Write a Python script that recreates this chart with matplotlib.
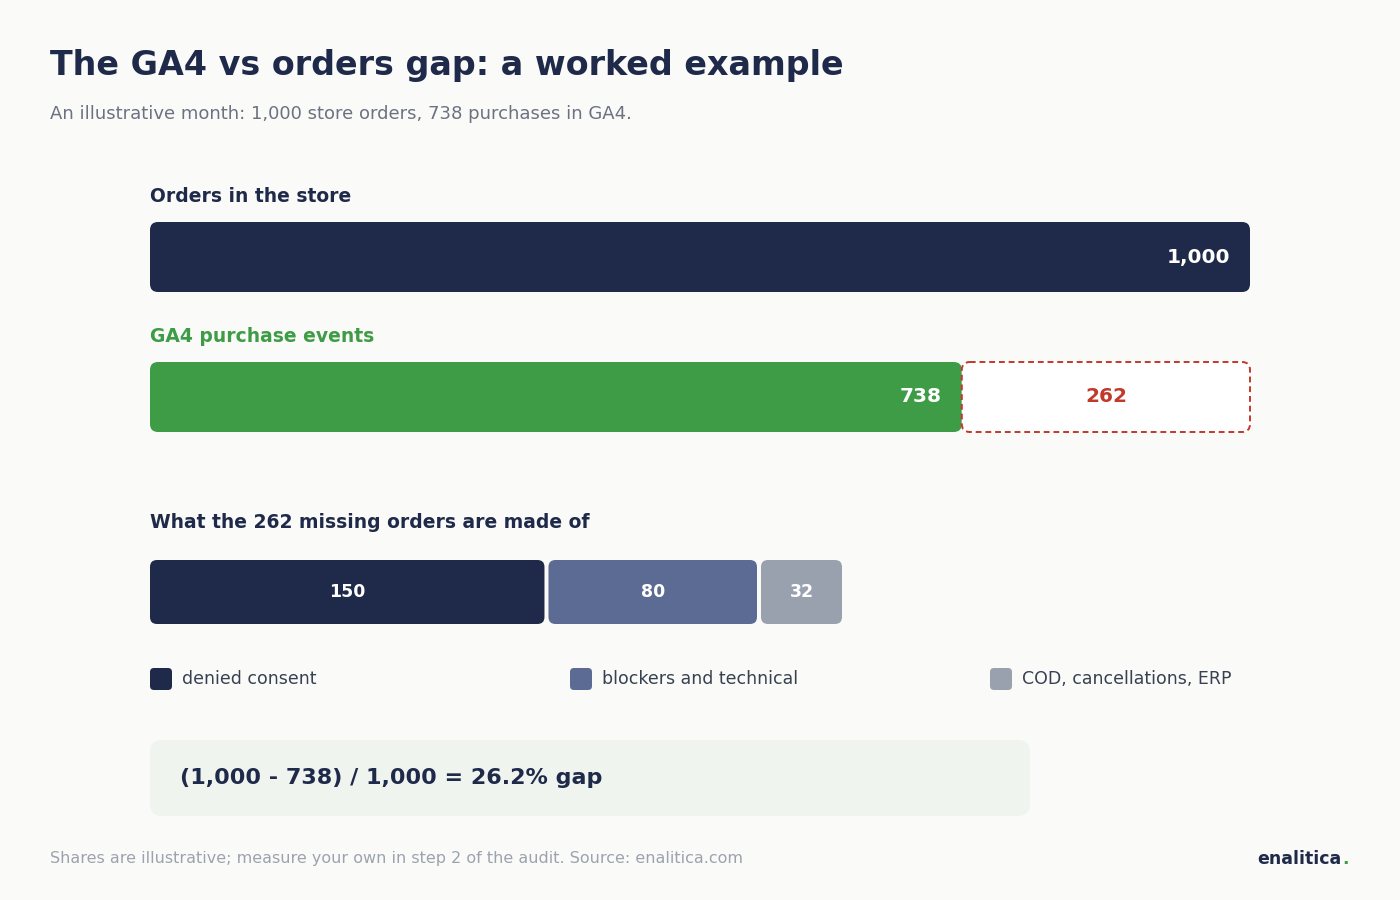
import matplotlib
matplotlib.use("Agg")
import matplotlib.pyplot as plt
from matplotlib.patches import FancyBboxPatch

store_orders = 1000
ga4_purchases = 738
gap_labels = ["denied consent", "blockers and technical", "COD, cancellations, ERP"]
gap_values = [150, 80, 32]
gap_colors = ["#1f2a4a", "#5c6b93", "#9aa1ae"]

NAVY = "#1f2a4a"; GREEN = "#3d9c45"; RED = "#c0392b"; BG = "#fafaf8"

fig = plt.figure(figsize=(14, 9), dpi=100, facecolor=BG)
ax = fig.add_axes([0, 0, 1, 1])
ax.set_xlim(0, 1400); ax.set_ylim(900, 0); ax.axis("off")
ax.set_facecolor(BG)

def rbar(x, y, w, h, color, r=8, **kw):
    p = FancyBboxPatch((x + r, y + r), max(w - 2 * r, 0.1), h - 2 * r,
                       boxstyle=f"round,pad={r}", fc=color, ec="none", **kw)
    ax.add_patch(p)
    return p

ax.text(50, 65, "The GA4 vs orders gap: a worked example", fontsize=24, weight="bold", color=NAVY, va="center")
ax.text(50, 114, "An illustrative month: 1,000 store orders, 738 purchases in GA4.", fontsize=13, color="#6b7280", va="center")

x0, full = 150, 1100
sc = full / store_orders
ax.text(x0, 197, "Orders in the store", fontsize=13.5, weight="bold", color=NAVY, va="center")
rbar(x0, 222, store_orders * sc, 70, NAVY)
ax.text(x0 + store_orders * sc - 20, 257, f"{store_orders:,}", fontsize=14.5, weight="bold", color="white", ha="right", va="center")

ax.text(x0, 337, "GA4 purchase events", fontsize=13.5, weight="bold", color=GREEN, va="center")
gw = ga4_purchases * sc
rbar(x0, 362, gw, 70, GREEN)
ax.text(x0 + gw - 20, 397, f"{ga4_purchases}", fontsize=14.5, weight="bold", color="white", ha="right", va="center")
missing = store_orders - ga4_purchases
r = 8
ax.add_patch(FancyBboxPatch((x0 + gw + r, 362 + r), missing * sc - 2 * r, 70 - 2 * r,
             boxstyle=f"round,pad={r}", fc="white", ec=RED, lw=1.4, ls=(0, (3, 2))))
ax.text(x0 + gw + missing * sc / 2, 397, f"{missing}", fontsize=14.5, weight="bold", color=RED, ha="center", va="center")

ax.text(x0, 522, f"What the {missing} missing orders are made of", fontsize=13.5, weight="bold", color=NAVY, va="center")
bsc = 696 / sum(gap_values)
cx = x0
for v, c in zip(gap_values, gap_colors):
    w = v * bsc
    rbar(cx, 560, w - 4, 64, c, r=7)
    ax.text(cx + (w - 4) / 2, 592, str(v), fontsize=12.5, weight="bold", color="white", ha="center", va="center")
    cx += w

for i, (lab, c) in enumerate(zip(gap_labels, gap_colors)):
    lx = 150 + i * 420
    rbar(lx, 668, 22, 22, c, r=4)
    ax.text(lx + 32, 679, lab, fontsize=12.5, color="#374151", va="center")

rbar(150, 740, 880, 76, "#f0f4ef", r=12)
ax.text(180, 778, f"({store_orders:,} - {ga4_purchases}) / {store_orders:,} = {missing / store_orders * 100:.1f}% gap",
        fontsize=16, weight="bold", color=NAVY, va="center")

ax.text(50, 859, "Shares are illustrative; measure your own in step 2 of the audit. Source: enalitica.com",
        fontsize=11.5, color="#9ca3af", va="center")
ax.text(1342, 859, "enalitica", fontsize=12.5, weight="bold", color=NAVY, ha="right", va="center")
ax.text(1342, 859, ".", fontsize=12.5, weight="bold", color=GREEN, ha="left", va="center")

fig.savefig("out.png", dpi=100, facecolor=BG)
